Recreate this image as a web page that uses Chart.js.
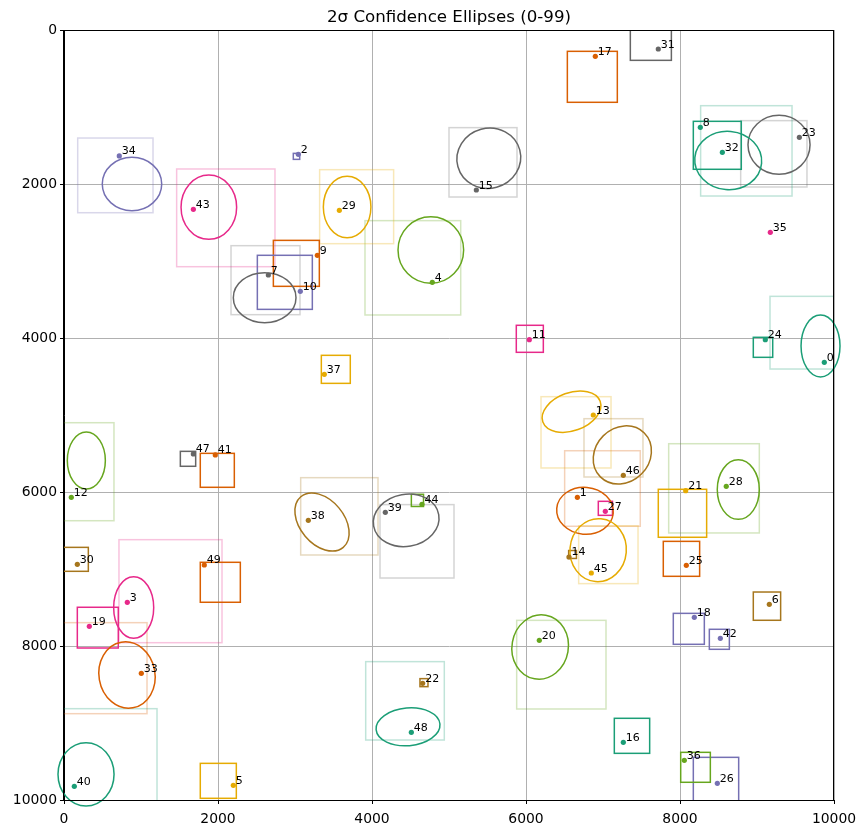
<!DOCTYPE html>
<html><head><meta charset="utf-8">
<script src="https://cdn.jsdelivr.net/npm/chart.js@4/dist/chart.umd.min.js"></script>
<style>html,body{margin:0;padding:0;background:#fff;}#wrap{width:866px;height:834px;}</style>
</head><body><div id="wrap"><canvas id="c"></canvas></div>
<script>
const palette = ['#1b9e77','#d95f02','#7570b3','#e7298a','#66a61e','#e6ab02','#a6761d','#666666'];
const tickValues = [0,2000,4000,6000,8000,10000];
const titleText = '2σ Confidence Ellipses (0-99)';

// points 0..49
const pointX = [9874,6667,3043,822,4783,2199,9160,2654,8264,3290,
                3069,6043,95,6874,6558,5355,7264,6900,8186,329,
                6173,8074,4658,9550,9108,8082,8485,7030,8601,3576,
                173,7718,8550,1004,718,9173,8056,3381,3173,4173,
                134,1965,8524,1680,4649,6848,7264,1680,4511,1822];
const pointY = [4316,6069,1615,7433,3277,9810,7459,3182,1264,2926,
                3394,4022,6069,5000,6844,2078,9251,342,7628,7744,
                7926,5983,8485,1394,4022,6952,9784,6251,5926,2342,
                6939,247,1589,8355,1636,2628,9485,4472,6368,6264,
                9822,5519,7900,2329,6160,7052,5784,5506,9121,6948];

// ellipses: id, centre x, centre y, radius x, radius y, angle (deg)
const ellId  = [0,1,3,4,7,12,13,15,20,23,28,29,32,33,34,38,39,40,43,45,46,48];
const ellCx  = [9825,6766,905,4764,2606,290,6591,5517,6184,9286,8757,3677,8626,818,883,3351,4444,286,1881,6937,7251,4468];
const ellCy  = [4104,6244,7500,2857,3476,5591,4957,1665,8013,1491,5968,2299,1695,8377,2000,6390,6368,9667,2301,6756,5519,9050];
const ellRx  = [253,368,260,426,407,247,396,416,366,403,273,309,435,364,386,429,429,364,361,366,403,416];
const ellRy  = [403,305,400,433,325,370,247,390,420,383,387,399,379,433,346,286,338,411,418,409,351,245];
const ellAng = [0,5,0,0,0,0,-20,-15,10,0,0,0,5,-10,0,50,-10,0,0,5,-45,-5];

// faint boxes around ellipse points: id, x0, x1, y0, y1
const fbId = [0,1,3,4,7,12,13,15,20,23,28,29,32,33,34,38,39,40,43,45,46,48];
const fbX0 = [9169,6502,714,3909,2169,-100,6195,5000,5879,8788,7853,3320,8268,-100,178,3074,4104,-200,1463,6684,6753,3918];
const fbX1 = [10600,7484,2052,5152,3065,649,7104,5883,7039,9649,9030,4281,9455,1078,1156,4078,5065,1208,2740,7455,7519,4939];
const fbY0 = [3459,5464,6619,2476,2801,5100,4762,1268,7667,1177,5373,1814,983,7697,1403,5814,6164,8814,1805,6440,5048,8203];
const fbY1 = [4403,6445,7957,3701,3697,6373,5688,2169,8818,2039,6532,2775,2156,8879,2373,6818,7117,10200,3074,7190,5805,9221];

// solid boxes: id, x0, x1, y0, y1
const sbId = [2,5,6,8,9,10,11,14,16,17,18,19,21,22,24,25,26,27,30,31,36,37,41,42,44,47,49];
const sbX0 = [2978,1770,8952,8173,2719,2511,5874,6554,7147,6537,7913,173,7718,4623,8952,7783,8173,6939,-60,7355,8009,3342,1770,8381,4511,1511,1770];
const sbX1 = [3061,2238,9307,8796,3316,3225,6225,6655,7606,7186,8316,705,8346,4727,9204,8255,8762,7123,316,7888,8394,3718,2212,8641,4669,1710,2290];
const sbY0 = [1602,9524,7299,1186,2732,2926,3835,6760,8939,277,7576,7497,5965,8424,3991,6641,9446,6121,6719,-150,9381,4225,5498,7783,6030,5472,6913];
const sbY1 = [1680,9978,7666,1809,3329,3628,4186,6863,9394,939,7978,8026,6588,8528,4251,7095,10150,6303,7030,394,9770,4589,5939,8043,6188,5666,7432];

function rgba(hex,a){const n=parseInt(hex.slice(1),16);return `rgba(${n>>16},${(n>>8)&255},${n&255},${a})`;}

const shapes = {
  id:'shapes',
  beforeDatasetsDraw(chart){
    const {ctx, chartArea:a, scales:{x,y}} = chart;
    ctx.save();
    ctx.beginPath(); ctx.rect(a.left,a.top,a.right-a.left,a.bottom-a.top); ctx.clip();
    ctx.lineWidth = 1.5;
    fbId.forEach((id,i)=>{
      const l=x.getPixelForValue(fbX0[i]), r=x.getPixelForValue(fbX1[i]);
      const t=y.getPixelForValue(fbY0[i]), b=y.getPixelForValue(fbY1[i]);
      ctx.strokeStyle = rgba(palette[id%8],0.28);
      ctx.strokeRect(l,t,r-l,b-t);
    });
    sbId.forEach((id,i)=>{
      const l=x.getPixelForValue(sbX0[i]), r=x.getPixelForValue(sbX1[i]);
      const t=y.getPixelForValue(sbY0[i]), b=y.getPixelForValue(sbY1[i]);
      ctx.strokeStyle = palette[id%8];
      ctx.strokeRect(l,t,r-l,b-t);
    });
    ctx.restore();
    ctx.save();
    ctx.lineWidth = 1.5;
    ellId.forEach((id,i)=>{
      const cx=x.getPixelForValue(ellCx[i]), cy=y.getPixelForValue(ellCy[i]);
      const rx=Math.abs(x.getPixelForValue(ellCx[i]+ellRx[i])-cx);
      const ry=Math.abs(y.getPixelForValue(ellCy[i]+ellRy[i])-cy);
      ctx.strokeStyle = palette[id%8];
      ctx.beginPath();
      ctx.ellipse(cx,cy,rx,ry,ellAng[i]*Math.PI/180,0,Math.PI*2);
      ctx.stroke();
    });
    ctx.restore();
  },
  afterDatasetsDraw(chart){
    const {ctx, scales:{x,y}} = chart;
    ctx.save();
    ctx.fillStyle = '#000';
    ctx.font = '11px "DejaVu Sans"';
    ctx.textAlign = 'left';
    ctx.textBaseline = 'alphabetic';
    pointX.forEach((v,i)=>{
      ctx.fillText(String(i), x.getPixelForValue(v)+2.5, y.getPixelForValue(pointY[i])-1.5);
    });
    ctx.restore();
  },
  afterDraw(chart){
    const {ctx, chartArea:a} = chart;
    ctx.save();
    ctx.strokeStyle='#000'; ctx.lineWidth=1;
    ctx.strokeRect(Math.round(a.left)+0.5-1, Math.round(a.top)+0.5, a.right-a.left, a.bottom-a.top);
    ctx.fillStyle='#000';
    ctx.font='16.67px "DejaVu Sans"';
    ctx.textAlign='center'; ctx.textBaseline='alphabetic';
    ctx.fillText(titleText, (a.left+a.right)/2, 22);
    ctx.restore();
  }
};

const tickFont = {family:'DejaVu Sans', size:13.9};
new Chart(document.getElementById('c'), {
  type:'scatter',
  data:{datasets:[{
    data: pointX.map((v,i)=>({x:v, y:pointY[i]})),
    pointBackgroundColor: pointX.map((_,i)=>palette[i%8]),
    pointBorderWidth:0, pointRadius:2.6, pointHoverRadius:2.6
  }]},
  options:{
    responsive:true, maintainAspectRatio:false, animation:false, devicePixelRatio:1,
    layout:{padding:{left:0,right:32,top:30,bottom:0}},
    plugins:{
      legend:{display:false}, tooltip:{enabled:false}, title:{display:false}
    },
    scales:{
      x:{type:'linear', min:0, max:10000,
        afterBuildTicks(s){ s.ticks = tickValues.map(v=>({value:v})); },
        afterFit(s){ s.height = 34; },
        ticks:{color:'#000', font:tickFont, padding:7, maxRotation:0, callback:v=>String(v)},
        grid:{color:'#b0b0b0', lineWidth:1, tickColor:'#000', tickLength:4},
        border:{color:'#000', width:1}},
      y:{type:'linear', min:0, max:10000, reverse:true,
        afterBuildTicks(s){ s.ticks = tickValues.map(v=>({value:v})); },
        afterFit(s){ s.width = 64; },
        ticks:{color:'#000', font:tickFont, padding:3, callback:v=>String(v)},
        grid:{color:'#b0b0b0', lineWidth:1, tickColor:'#000', tickLength:4},
        border:{color:'#000', width:1}}
    }
  },
  plugins:[shapes]
});
</script></body></html>
